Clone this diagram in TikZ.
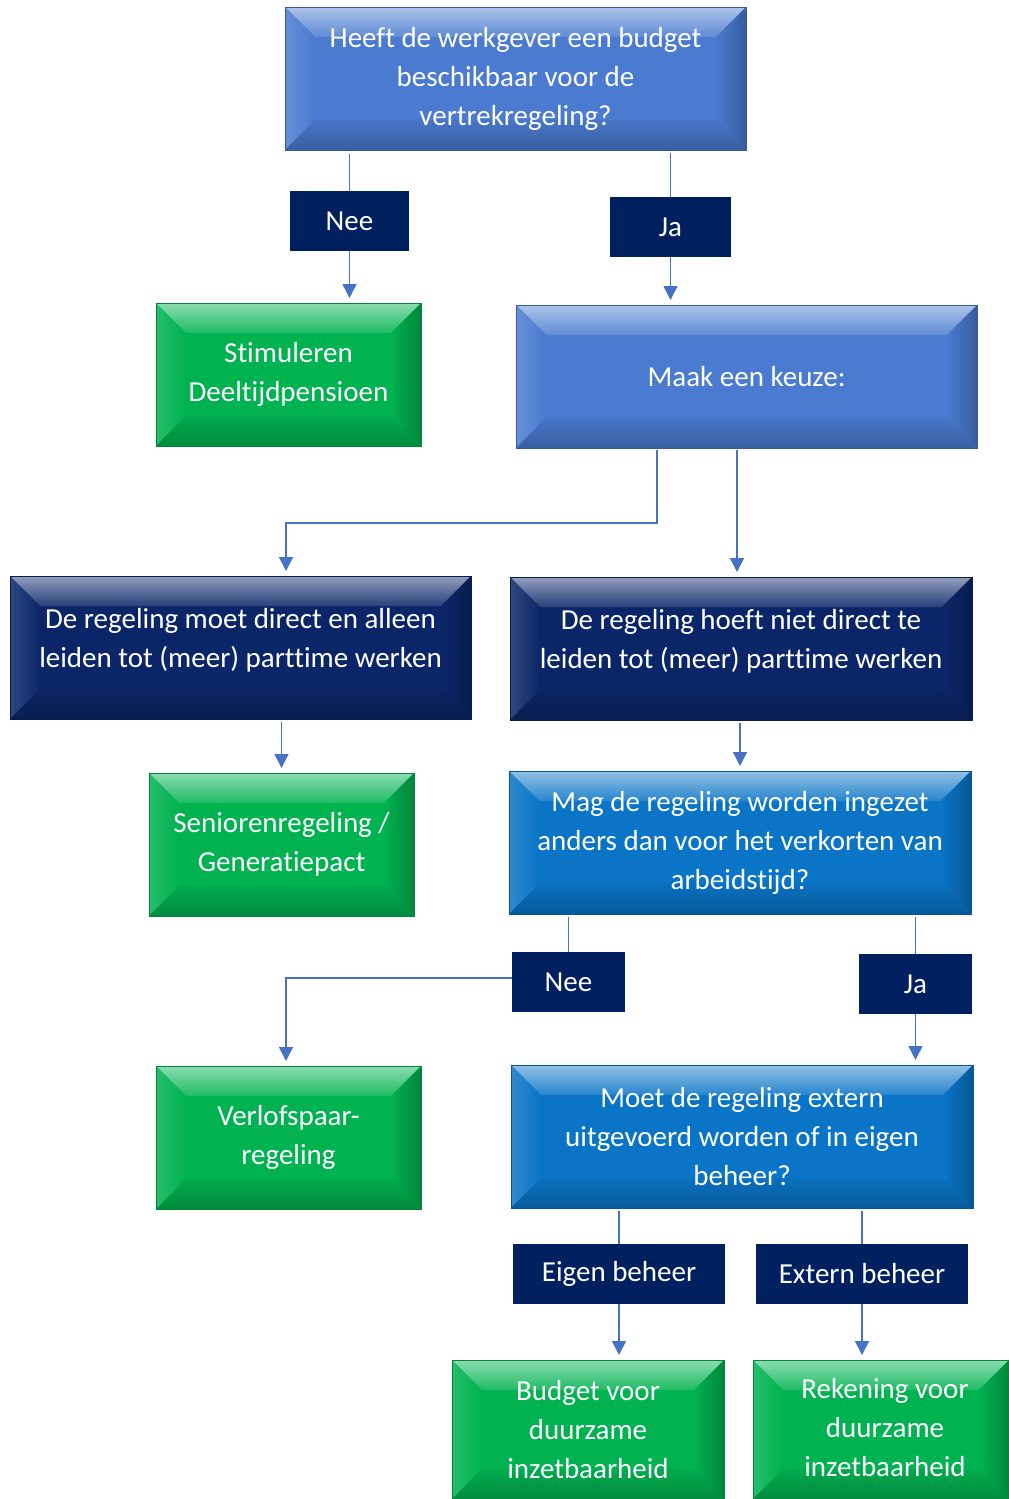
\documentclass[tikz,border=0pt]{standalone}
\usepackage{fontspec}
\setmainfont[Ligatures=NoCommon]{Carlito}
\usetikzlibrary{arrows.meta,calc}
\definecolor{cblue}{HTML}{4A7BD0}
\definecolor{cgreen}{HTML}{00B250}
\definecolor{cnavybox}{HTML}{0B2668}
\definecolor{cnavy}{HTML}{002060}
\definecolor{cmid}{HTML}{0A74C6}
\definecolor{cline}{HTML}{4472C4}
\newcommand\fs{\fontsize{29}{39}\selectfont}
\newcommand\raised[1]{\raisebox{0.75pt}[0pt][0pt]{\begin{tabular}{@{}c@{}}#1\end{tabular}}}
\newcommand\bevelfill[1]{%
  \coordinate (bnw) at (path picture bounding box.north west);
  \coordinate (bne) at (path picture bounding box.north east);
  \coordinate (bsw) at (path picture bounding box.south west);
  \coordinate (bse) at (path picture bounding box.south east);
  \shade[top color=#1!45!white, bottom color=#1!88!white]
    (bnw) -- (bne) -- ([xshift=-30pt,yshift=-30pt]bne) -- ([xshift=30pt,yshift=-30pt]bnw) -- cycle;
  \shade[left color=#1!85!white, right color=#1]
    (bnw) -- ([xshift=30pt,yshift=-30pt]bnw) -- ([xshift=30pt,yshift=30pt]bsw) -- (bsw) -- cycle;
  \shade[left color=#1, right color=#1!75!black]
    (bne) -- ([xshift=-30pt,yshift=-30pt]bne) -- ([xshift=-30pt,yshift=30pt]bse) -- (bse) -- cycle;
  \shade[top color=#1!96!black, bottom color=#1!78!black]
    (bsw) -- ([xshift=30pt,yshift=30pt]bsw) -- ([xshift=-30pt,yshift=30pt]bse) -- (bse) -- cycle;
}
\tikzset{
  box/.style={minimum width=461pt, minimum height=143pt, inner sep=0pt, outer sep=0pt,
    text=white, align=center, fill=#1, draw=#1!75!black, line width=0.8pt,
    path picture={\bevelfill{#1}}},
  lab/.style={fill=cnavy, text=white, inner sep=0pt, outer sep=0pt, minimum height=60pt},
  conn/.style={draw=cline, line width=1.5pt},
  arr/.style={conn, -{Triangle[width=14pt,length=14pt]}, shorten >=5pt},
}
\begin{document}
\begin{tikzpicture}[x=1pt,y=-1pt,font=\fs]
\useasboundingbox (0,0) rectangle (1009,1499);
\node[box=cblue] (q1) at (515.5,78.5) {Heeft de werkgever een budget\\beschikbaar voor de\\vertrekregeling?};
\node[lab, minimum width=119pt] (nee1) at (349.5,221) {Nee};
\node[lab, minimum width=121pt] (ja1) at (670.5,227) {Ja};
\node[box=cgreen, minimum width=265pt] (stim) at (288.5,374.5) {Stimuleren\\Deeltijdpensioen};
\node[box=cblue] (q2) at (746.5,376.5) {Maak een keuze:};
\node[box=cnavybox] (d1) at (240.5,647.5) {\raised{De regeling moet direct en alleen\\leiden tot (meer) parttime werken}};
\node[box=cnavybox, minimum width=462pt] (d2) at (741,648.5) {\raised{De regeling hoeft niet direct te\\leiden tot (meer) parttime werken}};
\node[box=cgreen, minimum width=265pt] (sen) at (281.5,844.5) {Seniorenregeling /\\Generatiepact};
\node[box=cmid, minimum width=462pt] (mag) at (740,842.5) {Mag de regeling worden ingezet\\anders dan voor het verkorten van\\arbeidstijd?};
\node[lab, minimum width=113pt] (nee2) at (568.5,982) {Nee};
\node[lab, minimum width=113pt] (ja2) at (915.5,984) {Ja};
\node[box=cgreen, minimum width=265pt] (verl) at (288.5,1137.5) {Verlofspaar-\\regeling};
\node[box=cmid, minimum width=462pt] (moet) at (742,1136.5) {Moet de regeling extern\\uitgevoerd worden of in eigen\\beheer?};
\node[lab, minimum width=212pt] (eig) at (619,1274) {Eigen beheer};
\node[lab, minimum width=212pt] (ext) at (862,1274) {Extern beheer};
\node[box=cgreen, minimum width=272pt, minimum height=139pt] (bud) at (588,1429.5) {Budget voor\\duurzame\\inzetbaarheid};
\node[box=cgreen, minimum width=256pt, minimum height=139pt] (rek) at (881,1429.5) {\hspace*{8pt}\begin{tabular}{@{}c@{}}Rekening voor\\duurzame\\inzetbaarheid\end{tabular}};

\draw[conn, shorten <=4pt] (nee1.north |- q1.south) -- (nee1.north);
\draw[arr] (nee1.south) -- (nee1.south |- stim.north);
\draw[conn, shorten <=3pt] (ja1.north |- q1.south) -- (ja1.north);
\draw[arr] (ja1.south) -- (ja1.south |- q2.north);
\draw[arr, shorten <=2pt] ([xshift=-89.5pt]q2.south) -- ++(0,75) -| ([xshift=45.5pt]d1.north);
\draw[arr, shorten <=2pt] ([xshift=-9.5pt]q2.south) -- ([xshift=-4pt]d2.north);
\draw[arr, shorten <=3pt] (sen.north |- d1.south) -- (sen.north);
\draw[arr, shorten <=3pt] (mag.north |- d2.south) -- (mag.north);
\draw[conn, shorten <=3pt] (nee2.north |- mag.south) -- (nee2.north);
\draw[arr] ([yshift=4pt]nee2.west) -| ([xshift=-2.5pt]verl.north);
\draw[conn, shorten <=3pt] (ja2.north |- mag.south) -- (ja2.north);
\draw[arr] (ja2.south) -- (ja2.south |- moet.north);
\draw[conn, shorten <=3pt] (eig.north |- moet.south) -- (eig.north);
\draw[arr] (eig.south) -- (eig.south |- bud.north);
\draw[conn, shorten <=3pt] (ext.north |- moet.south) -- (ext.north);
\draw[arr] (ext.south) -- (ext.south |- rek.north);
\end{tikzpicture}
\end{document}
